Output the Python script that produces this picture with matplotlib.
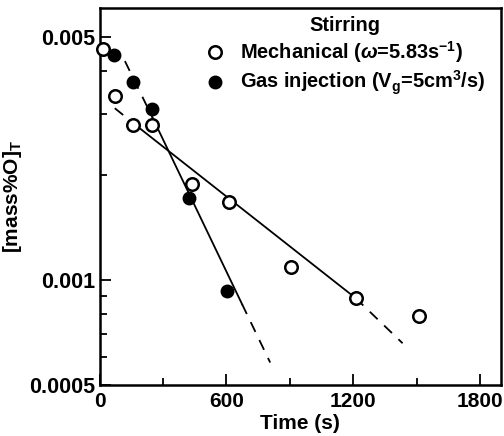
import matplotlib.pyplot as plt
from matplotlib.ticker import FixedLocator, NullFormatter

plt.rcParams['font.family'] = ['Liberation Sans', 'DejaVu Sans']
plt.rcParams['font.weight'] = 'bold'
plt.rcParams['mathtext.fontset'] = 'custom'
plt.rcParams['mathtext.rm'] = 'Liberation Sans:bold'
plt.rcParams['mathtext.bf'] = 'Liberation Sans:bold'
plt.rcParams['mathtext.it'] = 'Liberation Sans:italic'

# mechanical stirring (open circles)
mech_t = [15, 70, 155, 245, 435, 610, 905, 1215, 1510]
mech_c = [0.00462, 0.00339, 0.00279, 0.00279, 0.00189, 0.00168, 0.00109, 0.00089, 0.00079]

# gas injection (filled circles)
gas_t = [66, 157, 247, 423, 603]
gas_c = [0.00444, 0.00371, 0.00310, 0.00172, 0.00093]

# fitted lines: dashed start, solid part, dashed end
mech_fit_t = [71, 157, 1211, 1434]
mech_fit_c = [0.00312, 0.00283, 0.000889, 0.000659]
gas_fit_t = [119, 250, 674, 807]
gas_fit_c = [0.00426, 0.00293, 0.000853, 0.00058]

fig = plt.figure(figsize=(5.04, 4.36), dpi=100)
ax = fig.add_axes([0.198, 0.117, 0.796, 0.865])

for ft, fc in [(mech_fit_t, mech_fit_c), (gas_fit_t, gas_fit_c)]:
    ax.plot(ft[0:2], fc[0:2], color='black', lw=1.3, ls=(0, (6, 5)))
    ax.plot(ft[1:3], fc[1:3], color='black', lw=1.3)
    ax.plot(ft[2:4], fc[2:4], color='black', lw=1.3, ls=(0, (6, 5)))

ax.plot(mech_t, mech_c, 'o', ms=9, mfc='white', mec='black', mew=1.8,
        label=r'Mechanical ($\omega$=5.83s$^{-1}$)', clip_on=False, zorder=5)
ax.plot(gas_t, gas_c, 'o', ms=9, mfc='black', mec='black',
        label=r'Gas injection (V$_{\mathrm{g}}$=5cm$^{3}$/s)', clip_on=False, zorder=5)

ax.set_yscale('log')
ax.set_xlim(0, 1900)
ax.set_ylim(0.0005, 0.00606)
ax.set_xticks([0, 600, 1200, 1800])
ax.xaxis.set_minor_locator(FixedLocator([300, 900, 1500]))
ax.set_yticks([0.0005, 0.001, 0.005])
ax.set_yticklabels(['0.0005', '0.001', '0.005'])
ax.yaxis.set_minor_locator(FixedLocator([0.0006, 0.0007, 0.0008, 0.0009,
                                         0.002, 0.003, 0.004]))
ax.yaxis.set_minor_formatter(NullFormatter())
ax.tick_params(which='major', direction='in', length=8, width=1.3, labelsize=15, pad=3)
ax.tick_params(axis='y', which='major', labelsize=15.5)
ax.tick_params(axis='x', which='major', pad=5)
ax.tick_params(which='minor', direction='in', length=5, width=1.3)
for s in ax.spines.values():
    s.set_linewidth(1.8)

ax.set_xlabel('Time (s)', fontsize=15, fontweight='bold', labelpad=2)
ax.set_ylabel(r'[mass%O]$_{\mathrm{T}}$', fontsize=15, fontweight='bold', labelpad=4)

leg = ax.legend(title='Stirring', loc='upper right', bbox_to_anchor=(0.995, 1.015),
                frameon=False, fontsize=14.4, title_fontsize=14.4,
                handletextpad=0.75, handlelength=1.0, borderaxespad=0.3,
                labelspacing=0.2)
leg.get_title().set_fontweight('bold')

fig.savefig('out.png', dpi=100)
